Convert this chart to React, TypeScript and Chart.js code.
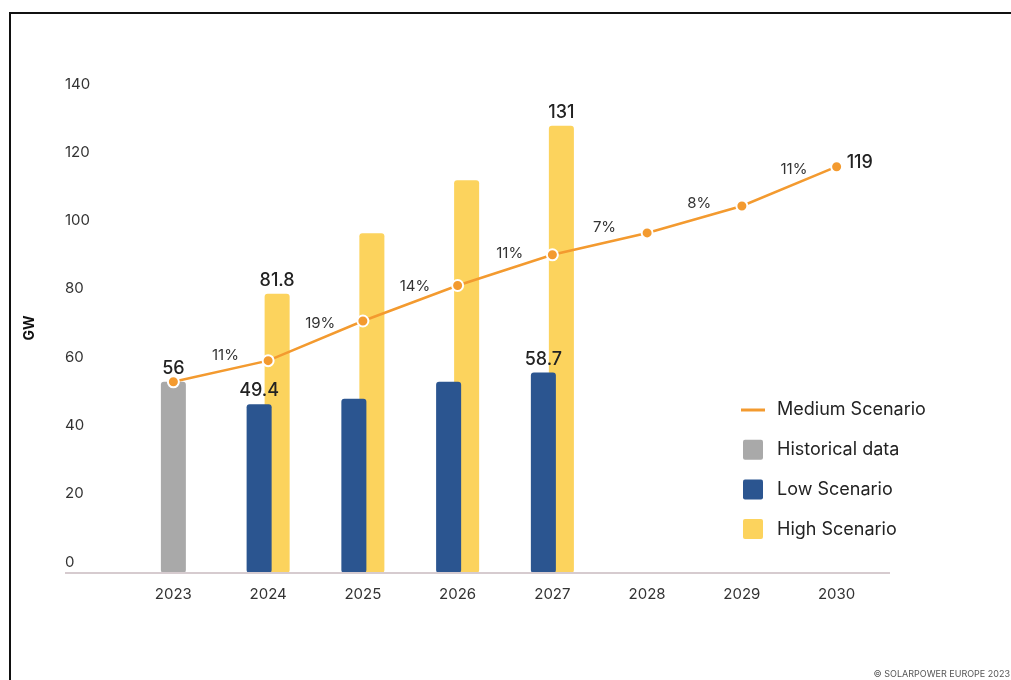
import React, { useEffect, useRef } from "react";
import { Chart, registerables } from "chart.js";

Chart.register(...registerables);

const years = ["2023", "2024", "2025", "2026", "2027", "2028", "2029", "2030"];
const historical = [56, null, null, null, null, null, null, null];
const lowScenario = [null, 49.4, 51, 56, 58.7, null, null, null];
const highScenario = [null, 81.8, 99.5, 115, 131, null, null, null];
const mediumScenario = [56, 62.2, 73.8, 84.2, 93.2, 99.6, 107.5, 119];
const growthLabels = ["", "11%", "19%", "14%", "11%", "7%", "8%", "11%"];
const historicalLabels = ["56", null, null, null, null, null, null, null];
const lowLabels = [null, "49.4", null, null, "58.7", null, null, null];
const highLabels = [null, "81.8", null, null, "131", null, null, null];
const mediumLabels = [null, null, null, null, null, null, null, "119"];
const yTicks = [0, 20, 40, 60, 80, 100, 120, 140];
const legendLabels = ["Medium Scenario", "Historical data", "Low Scenario", "High Scenario"];

const FONT = "Inter, 'Noto Sans', sans-serif";
const ORANGE = "#f39a2f";
const GRAY = "#a9a9a9";
const BLUE = "#2b5590";
const YELLOW = "#fcd35d";

const overlayPlugin = {
  id: "overlay",
  afterDatasetsDraw(chart: any) {
    const ctx = chart.ctx;
    const y = chart.scales.y;
    ctx.save();

    // baseline
    ctx.strokeStyle = "#d6cbcf";
    ctx.lineWidth = 2;
    ctx.beginPath();
    ctx.moveTo(65, y.getPixelForValue(0));
    ctx.lineTo(890, y.getPixelForValue(0));
    ctx.stroke();

    // bar value labels
    ctx.fillStyle = "#222";
    ctx.font = `500 18px ${FONT}`;
    ctx.textAlign = "center";
    ctx.textBaseline = "alphabetic";
    const barLabelSets = [
      [1, historicalLabels],
      [2, lowLabels],
      [3, highLabels],
    ] as const;
    for (const [di, labels] of barLabelSets) {
      const meta = chart.getDatasetMeta(di);
      labels.forEach((lab: any, i: number) => {
        if (!lab) return;
        const el = meta.data[i];
        if (!el) return;
        ctx.fillText(lab, el.x, el.y - 8);
      });
    }

    // medium end label
    const lineMeta = chart.getDatasetMeta(0);
    ctx.textAlign = "left";
    ctx.textBaseline = "middle";
    mediumLabels.forEach((lab, i) => {
      if (!lab) return;
      const el = lineMeta.data[i];
      ctx.fillText(lab, el.x + 10, el.y - 4);
    });

    // growth labels
    ctx.fillStyle = "#333";
    ctx.font = `400 15px ${FONT}`;
    ctx.textAlign = "center";
    growthLabels.forEach((lab, i) => {
      if (!lab || i === 0) return;
      const a = lineMeta.data[i - 1];
      const b = lineMeta.data[i];
      const t = 0.55;
      const px = a.x + (b.x - a.x) * t;
      const py = a.y + (b.y - a.y) * t;
      ctx.fillText(lab, px, py - 15);
    });

    // y-axis title
    ctx.save();
    ctx.translate(30, 328);
    ctx.rotate(-Math.PI / 2);
    ctx.fillStyle = "#111";
    ctx.font = `700 14px ${FONT}`;
    ctx.textAlign = "center";
    ctx.textBaseline = "middle";
    ctx.fillText("GW", 0, 0);
    ctx.restore();

    // legend
    const lx = 743;
    const ly = 410;
    const step = 39.7;
    chart.data.datasets.forEach((ds: any, i: number) => {
      const cy = ly + i * step;
      if (ds.type === "line") {
        ctx.strokeStyle = ds.borderColor;
        ctx.lineWidth = 3;
        ctx.beginPath();
        ctx.moveTo(lx - 2, cy);
        ctx.lineTo(lx + 22, cy);
        ctx.stroke();
      } else {
        ctx.fillStyle = ds.backgroundColor;
        ctx.beginPath();
        (ctx as any).roundRect(lx, cy - 10, 20, 20, 2);
        ctx.fill();
      }
      ctx.fillStyle = "#222";
      ctx.font = `400 18px ${FONT}`;
      ctx.textAlign = "left";
      ctx.textBaseline = "middle";
      ctx.fillText(legendLabels[i], 777, cy);
    });

    // credit
    ctx.fillStyle = "#555";
    ctx.font = `400 9px ${FONT}`;
    ctx.textAlign = "right";
    ctx.textBaseline = "middle";
    ctx.fillText("© SOLARPOWER EUROPE 2023", 1010, 674);

    ctx.restore();
  },
};

export default function App() {
  const ref = useRef<HTMLCanvasElement | null>(null);

  useEffect(() => {
    if (!ref.current) return;
    const chart = new Chart(ref.current, {
      type: "bar",
      data: {
        labels: years,
        datasets: [
          {
            type: "line",
            label: legendLabels[0],
            data: mediumScenario,
            borderColor: ORANGE,
            backgroundColor: ORANGE,
            borderWidth: 2.5,
            pointRadius: 5.5,
            pointBackgroundColor: ORANGE,
            pointBorderColor: "#fff",
            pointBorderWidth: 2,
            tension: 0,
          } as any,
          {
            label: legendLabels[1],
            data: historical,
            backgroundColor: GRAY,
            categoryPercentage: 0.38,
            barPercentage: 0.694,
            borderRadius: 3,
            borderSkipped: false,
          },
          {
            label: legendLabels[2],
            data: lowScenario,
            backgroundColor: BLUE,
            categoryPercentage: 0.38,
            barPercentage: 1.39,
            borderRadius: 3,
            borderSkipped: false,
          },
          {
            label: legendLabels[3],
            data: highScenario,
            backgroundColor: YELLOW,
            categoryPercentage: 0.38,
            barPercentage: 1.39,
            borderRadius: 3,
            borderSkipped: false,
          },
        ],
      },
      options: {
        responsive: false,
        animation: false,
        devicePixelRatio: 1,
        layout: { padding: { left: 65, right: 127, top: 95, bottom: 0 } },
        datasets: { bar: { skipNull: true } } as any,
        plugins: {
          legend: { display: false },
          tooltip: { enabled: false },
        },
        scales: {
          x: {
            grid: { display: false, drawTicks: false },
            border: { display: false },
            ticks: {
              color: "#333",
              font: { family: FONT, size: 15 },
              padding: 12,
            },
            afterFit: (s: any) => {
              s.height = 107;
            },
          },
          y: {
            min: 0,
            max: 140,
            afterBuildTicks: (s: any) => {
              s.ticks = yTicks.map((v) => ({ value: v }));
            },
            grid: { display: false, drawTicks: false },
            border: { display: false },
            ticks: {
              color: "#333",
              font: { family: FONT, size: 15 },
              crossAlign: "far",
              labelOffset: -11,
              padding: 0,
            },
            afterFit: (s: any) => {
              s.width = 61;
            },
          },
        },
      },
      plugins: [overlayPlugin],
    });
    return () => chart.destroy();
  }, []);

  return (
    <>
      <div style={{ position: "fixed", left: 9, top: 12, width: 1002, height: 2, background: "#111" }} />
      <div style={{ position: "fixed", left: 9, top: 12, width: 2, height: 668, background: "#111" }} />
      <canvas
        ref={ref}
        width={1011}
        height={680}
        style={{ position: "fixed", left: 0, top: 0, width: 1011, height: 680, display: "block" }}
      />
    </>
  );
}
